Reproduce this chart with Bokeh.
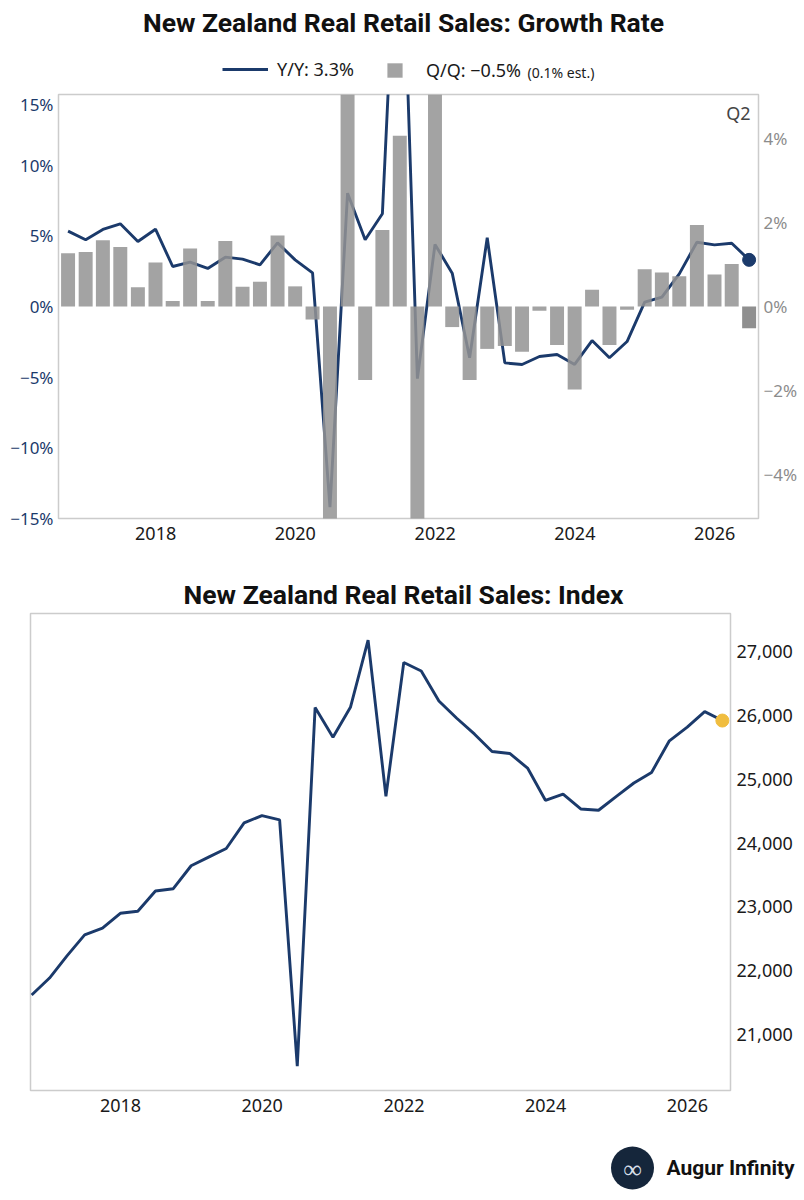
import pandas as pd
from bokeh.plotting import figure
from bokeh.models import (Range1d, LinearAxis, FixedTicker, DatetimeTickFormatter,
                          CustomJSTickFormatter, NumeralTickFormatter, Legend, LegendItem,
                          Label, ColumnDataSource)
from bokeh.embed import file_html
from bokeh.resources import INLINE
from bokeh.core.properties import value

# ---------------- data ----------------
first_quarter = "2016Q3"
last_quarter = "2026Q2"

yoy = [5.33, 4.72, 5.45, 5.85, 4.60, 5.47, 2.83, 3.14, 2.69, 3.49,
       3.35, 2.95, 4.50, 3.30, 2.38, -14.2, 8.02, 4.72, 6.56, 32.6,
       -5.10, 4.39, 2.36, -3.63, 4.86, -3.99, -4.10, -3.54, -3.40, -4.10,
       -2.41, -3.63, -2.48, 0.31, 0.66, 2.31, 4.55, 4.36, 4.48, 3.30]

qoq = [1.27, 1.30, 1.58, 1.42, 0.46, 1.05, 0.13, 1.38, 0.13, 1.56,
       0.47, 0.59, 1.69, 0.48, -0.31, -15.0, 27.5, -1.75, 1.82, 4.07,
       -9.0, 8.5, -0.49, -1.75, -1.01, -0.94, -1.08, -0.10, -0.92, -1.98,
       0.40, -0.92, -0.08, 0.89, 0.81, 0.72, 1.94, 0.76, 1.01, -0.52]

index_level = [21620, 21886, 22234, 22562, 22667, 22901, 22933, 23250, 23286, 23646,
               23781, 23917, 24317, 24432, 24364, 20505, 26125, 25661, 26130, 27182,
               24734, 26833, 26698, 26229, 25958, 25708, 25437, 25406, 25177, 24672,
               24770, 24536, 24516, 24734, 24943, 25109, 25604, 25818, 26062, 25922]

year_ticks = [2018, 2020, 2022, 2024, 2026]
yoy_ticks = [-15, -10, -5, 0, 5, 10, 15]
qoq_ticks = [-4, -2, 0, 2, 4]
index_ticks = [21000, 22000, 23000, 24000, 25000, 26000, 27000]

title_growth = "New Zealand Real Retail Sales: Growth Rate"
title_index = "New Zealand Real Retail Sales: Index"
yoy_label = "Y/Y: 3.3%"
qoq_label = "Q/Q: \u22120.5%"
qoq_note = "(0.1% est.)"
period_note = "Q2"
brand = "Augur Infinity"

# ---------------- styling ----------------
NAVY = "#1b3a6b"
BAR = "#939393"
BAR_LAST = "#7b7b7b"
GOLD = "#f0bd3f"
FONT = "Noto Sans"
TFONT = "Roboto"
W = 804

periods = pd.period_range(first_quarter, last_quarter, freq="Q")
dates = [pr.end_time.normalize() for pr in periods]


def ms(ts):
    return pd.Timestamp(ts).value / 1e6


date_ms = [ms(d) for d in dates]
bar_colors = [BAR] * (len(qoq) - 1) + [BAR_LAST]
src = ColumnDataSource(dict(date=dates, yoy=yoy, qoq=qoq, color=bar_colors, idx=index_level))

tick_ms = [ms(f"{y}-01-01") for y in year_ticks]
pct_fmt = CustomJSTickFormatter(code="return (tick < 0 ? '\u2212' : '') + Math.abs(tick) + '%';")
date_fmt = DatetimeTickFormatter(years="%Y", months="%Y", days="%Y", hours="%Y")
bar_w = 73 * 24 * 3600 * 1000


def style_axis(ax, color, size="18px", standoff=6):
    ax.axis_line_color = None
    ax.major_tick_line_color = None
    ax.minor_tick_line_color = None
    ax.major_tick_out = 0
    ax.major_tick_in = 0
    ax.minor_tick_out = 0
    ax.minor_tick_in = 0
    ax.major_label_text_font = FONT
    ax.major_label_text_font_size = size
    ax.major_label_text_color = color
    ax.major_label_standoff = standoff


def style_fig(p):
    p.outline_line_color = "#cccccc"
    p.outline_line_width = 1.5
    p.xgrid.visible = False
    p.ygrid.visible = False
    p.background_fill_color = "white"
    p.border_fill_color = "white"


def blank_fig(h):
    f = figure(width=W, height=h, output_backend="svg", toolbar_location=None,
               x_range=Range1d(0, W), y_range=Range1d(0, h), min_border=0)
    f.axis.visible = False
    f.grid.visible = False
    f.outline_line_color = None
    f.background_fill_color = "white"
    f.border_fill_color = "white"
    return f


def legend_box(items, x, y, glyph_w, standoff):
    return Legend(items=items, orientation="horizontal", location=(x, y),
                  border_line_color=None, background_fill_alpha=0,
                  label_text_font=FONT, label_text_font_size="18px", label_text_color="#1a1a1a",
                  glyph_width=glyph_w, glyph_height=18, label_height=18,
                  padding=0, margin=0, label_standoff=standoff)


# ---------------- header of top chart ----------------
H0 = 92
p0 = blank_fig(H0)
p0.add_layout(Label(x=403, y=H0 - 22, x_units="screen", y_units="screen", text=title_growth,
                    text_font=TFONT, text_font_size="26.5px", text_font_style="bold",
                    text_color="#111111", text_align="center", text_baseline="alphabetic"))
# legend glyph sources: the series themselves, far outside this header's visible range
leg_line = p0.line(x=date_ms, y=yoy, line_color=NAVY, line_width=2.8)
leg_bar = p0.vbar(x=date_ms, top=qoq, width=bar_w, fill_color=BAR, fill_alpha=0.85,
                  line_color=None)
p0.add_layout(legend_box([LegendItem(label=yoy_label, renderers=[leg_line])], 222, 11, 46, 9))
p0.add_layout(legend_box([LegendItem(label=qoq_label, renderers=[leg_bar])], 385, 10, 19, 22))
p0.add_layout(Label(x=527, y=H0 - 72, x_units="screen", y_units="screen", text=qoq_note,
                    text_font=FONT, text_font_size="14px", text_color="#1a1a1a",
                    text_baseline="alphabetic"))

# ---------------- top chart ----------------
L1, R1, T1, B1 = 58, 46, 2, 47
FH1 = 424
H1 = T1 + FH1 + B1
FW1 = W - L1 - R1
p1 = figure(width=W, height=H1, x_axis_type="datetime", output_backend="svg",
            toolbar_location=None,
            x_range=Range1d(ms("2016-08-11"), ms("2026-08-18")),
            y_range=Range1d(-15, 15),
            min_border_left=L1, min_border_right=R1, min_border_top=T1, min_border_bottom=B1)
style_fig(p1)
p1.extra_y_ranges = {"qq": Range1d(-5.05, 5.05)}

p1.xaxis.ticker = FixedTicker(ticks=tick_ms)
p1.xaxis.formatter = date_fmt
style_axis(p1.xaxis[0], "#1a1a1a", "18px", 8)

p1.yaxis.ticker = FixedTicker(ticks=yoy_ticks)
p1.yaxis.formatter = pct_fmt
style_axis(p1.yaxis[0], NAVY, "17px", 5)

ax_r = LinearAxis(y_range_name="qq", ticker=FixedTicker(ticks=qoq_ticks), formatter=pct_fmt)
style_axis(ax_r, "#8c8c8c", "17px", 5)
p1.add_layout(ax_r, "right")

p1.line(x="date", y="yoy", source=src, line_color=NAVY, line_width=2.9)
p1.vbar(x="date", top="qoq", bottom=0, width=bar_w, source=src, y_range_name="qq",
        fill_color="color", fill_alpha=0.85, line_color=None)
p1.scatter(x=[dates[-1]], y=[yoy[-1]], size=13, fill_color=NAVY, line_color=NAVY)

p1.add_layout(Label(x=FW1 - 8, y=FH1 - 18, x_units="screen", y_units="screen", text=period_note,
                    text_font=FONT, text_font_size="18px", text_color="#444444",
                    text_align="right", text_baseline="middle"))

# ---------------- header of bottom chart ----------------
H2h = 46
p2h = blank_fig(H2h)
p2h.add_layout(Label(x=403, y=17, x_units="screen", y_units="screen", text=title_index,
                     text_font=TFONT, text_font_size="26.5px", text_font_style="bold",
                     text_color="#111111", text_align="center", text_baseline="alphabetic"))

# ---------------- bottom chart ----------------
L2, R2, T2, B2 = 30, 74, 2, 38
FH2 = 477
H2 = T2 + FH2 + B2
p2 = figure(width=W, height=H2, x_axis_type="datetime", output_backend="svg",
            toolbar_location=None,
            x_range=Range1d(ms("2016-09-24"), ms("2026-08-11")),
            y_range=Range1d(20123, 27600), y_axis_location="right",
            min_border_left=L2, min_border_right=R2, min_border_top=T2, min_border_bottom=B2)
style_fig(p2)
p2.xaxis.ticker = FixedTicker(ticks=tick_ms)
p2.xaxis.formatter = date_fmt
style_axis(p2.xaxis[0], "#1a1a1a", "18px", 8)
p2.yaxis.ticker = FixedTicker(ticks=index_ticks)
p2.yaxis.formatter = NumeralTickFormatter(format="0,0")
style_axis(p2.yaxis[0], "#1a1a1a", "18px", 6)

p2.line(x="date", y="idx", source=src, line_color=NAVY, line_width=2.9)
p2.scatter(x=[dates[-1]], y=[index_level[-1]], size=13, fill_color=GOLD, line_color=GOLD)

# ---------------- logo ----------------
H3 = 66
p3 = blank_fig(H3)
logo_x, logo_y = 632, H3 - 39.5
p3.scatter(x=[logo_x], y=[logo_y], size=43, fill_color="#15263b", line_color=None)
p3.text(x=[logo_x], y=[logo_y], text=["\u221e"], text_align="center", text_baseline="middle",
        text_font=value(FONT), text_font_size="26px", text_color="#d6dee8")
p3.text(x=[logo_x + 34], y=[logo_y], text=[brand], text_align="left", text_baseline="middle",
        text_font=value(TFONT), text_font_size="21px", text_font_style="bold", text_color="#111111")

open("out.html", "w").write(file_html([p0, p1, p2h, p2, p3], INLINE))
